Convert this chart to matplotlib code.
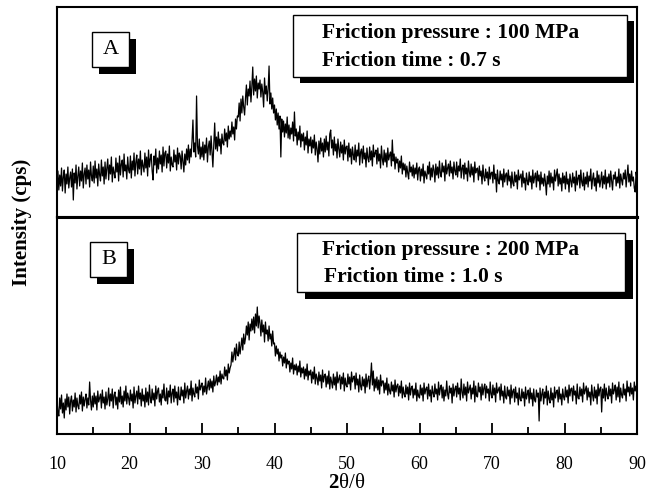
import numpy as np
import matplotlib
matplotlib.use("Agg")
import matplotlib.pyplot as plt
from matplotlib.patches import Rectangle

plt.rcParams['font.family'] = ['Liberation Serif', 'DejaVu Serif']
plt.rcParams['mathtext.fontset'] = 'custom'
plt.rcParams['mathtext.rm'] = 'Liberation Serif'
plt.rcParams['mathtext.bf'] = 'Liberation Serif:bold'

# Panel A intensity (arbitrary units); one row per degree (10..89), 8 readings
# per degree (step 0.125), then the reading at 90 deg
rows_a = [
    [35, 46, 27, 42, 31, 49, 26, 40], [47, 24, 43, 33, 50, 29, 39, 45],
    [30, 48, 17, 44, 34, 52, 28, 41], [50, 31, 46, 36, 54, 29, 43, 49],
    [33, 52, 38, 47, 30, 55, 41, 36], [51, 34, 56, 39, 48, 31, 53, 42],
    [36, 57, 41, 50, 33, 55, 38, 49], [58, 37, 52, 43, 60, 35, 50, 44],
    [39, 59, 45, 54, 36, 61, 42, 53], [57, 40, 63, 46, 52, 38, 60, 47],
    [44, 61, 39, 56, 47, 64, 41, 55], [62, 43, 58, 48, 66, 42, 57, 51],
    [45, 64, 49, 60, 41, 67, 50, 58], [63, 46, 37, 61, 52, 68, 44, 59],
    [48, 66, 53, 62, 45, 70, 51, 64], [66, 49, 63, 54, 71, 46, 60, 52],
    [50, 67, 55, 62, 47, 69, 53, 64], [61, 48, 66, 56, 45, 63, 52, 68],
    [57, 72, 54, 68, 60, 76, 97, 65], [74, 60, 121, 71, 63, 78, 58, 70],
    [60, 75, 57, 72, 64, 79, 55, 70], [76, 62, 81, 66, 50, 73, 94, 68],
    [80, 66, 85, 71, 78, 63, 83, 74], [72, 88, 76, 84, 70, 91, 78, 86],
    [80, 95, 83, 90, 77, 98, 88, 101], [100, 114, 96, 118, 104, 121, 110, 102],
    [119, 132, 112, 128, 121, 136, 115, 130], [150, 122, 138, 126, 141, 119, 134, 128],
    [137, 120, 133, 125, 110, 139, 123, 131], [116, 128, 151, 113, 124, 108, 119, 104],
    [112, 97, 108, 92, 104, 88, 101, 60], [98, 85, 96, 80, 93, 84, 100, 79],
    [92, 78, 89, 83, 95, 76, 105, 81], [88, 72, 85, 77, 91, 70, 83, 76],
    [84, 67, 80, 72, 86, 64, 78, 71], [80, 64, 77, 69, 82, 62, 75, 68],
    [55, 76, 63, 79, 66, 74, 60, 78], [65, 81, 67, 75, 61, 83, 87, 69],
    [77, 62, 80, 66, 73, 59, 78, 68], [60, 75, 64, 72, 57, 77, 63, 70],
    [71, 56, 74, 60, 68, 53, 70, 62], [57, 72, 55, 67, 61, 74, 52, 65],
    [68, 54, 71, 58, 64, 50, 69, 59], [55, 70, 57, 66, 51, 72, 60, 64],
    [67, 53, 69, 56, 63, 49, 71, 58], [52, 67, 55, 64, 50, 69, 57, 62],
    [65, 51, 77, 56, 63, 48, 60, 54], [58, 45, 56, 49, 61, 43, 54, 47],
    [53, 40, 51, 44, 38, 55, 45, 50], [41, 52, 39, 49, 43, 54, 37, 48],
    [50, 36, 48, 41, 53, 34, 46, 42], [38, 51, 43, 55, 37, 49, 40, 52],
    [47, 35, 53, 42, 50, 39, 56, 44], [40, 54, 45, 51, 36, 57, 43, 49],
    [53, 41, 56, 44, 50, 38, 55, 46], [42, 55, 40, 51, 46, 58, 39, 49],
    [52, 38, 54, 43, 49, 36, 56, 45], [40, 53, 42, 50, 35, 55, 44, 48],
    [49, 37, 51, 41, 46, 33, 52, 40], [36, 48, 39, 45, 32, 50, 38, 44],
    [45, 34, 52, 38, 43, 25, 47, 36], [33, 46, 37, 43, 30, 48, 35, 42],
    [44, 32, 47, 36, 41, 29, 45, 34], [31, 45, 35, 42, 28, 47, 37, 40],
    [43, 30, 46, 34, 39, 27, 44, 36], [32, 45, 35, 41, 28, 47, 34, 40],
    [44, 30, 46, 36, 42, 27, 45, 33], [39, 31, 43, 35, 22, 41, 33, 46],
    [30, 44, 34, 40, 27, 47, 36, 42], [48, 31, 43, 33, 39, 26, 44, 34],
    [41, 28, 45, 33, 38, 25, 43, 36], [30, 44, 34, 40, 26, 46, 32, 39],
    [42, 29, 47, 35, 31, 44, 27, 40], [33, 45, 30, 41, 36, 48, 28, 38],
    [44, 31, 39, 26, 46, 34, 42, 30], [37, 45, 29, 41, 33, 47, 28, 40],
    [34, 43, 30, 46, 36, 27, 42, 38], [45, 31, 40, 34, 48, 29, 43, 37],
    [32, 44, 38, 47, 30, 41, 52, 35], [43, 31, 46, 36, 40, 29, 25, 45],
]
end_a = 38

# Panel B intensity (arbitrary units), same layout
rows_b = [
    [33, 22, 18, 36, 25, 39, 21, 31], [16, 35, 24, 40, 27, 37, 20, 33],
    [38, 23, 34, 27, 41, 22, 36, 28], [25, 39, 30, 42, 23, 37, 28, 35],
    [40, 26, 36, 29, 52, 34, 24, 38], [27, 41, 30, 38, 24, 43, 32, 36],
    [40, 26, 44, 31, 37, 25, 42, 29], [35, 46, 28, 40, 33, 45, 26, 39],
    [42, 29, 37, 25, 44, 32, 47, 30], [38, 27, 43, 33, 48, 30, 41, 36],
    [29, 44, 33, 40, 26, 47, 31, 38], [43, 30, 48, 35, 41, 28, 45, 33],
    [39, 27, 46, 32, 42, 29, 49, 36], [31, 45, 34, 41, 28, 48, 35, 43],
    [46, 32, 40, 29, 44, 36, 50, 34], [33, 46, 30, 43, 37, 49, 31, 41],
    [45, 32, 48, 36, 42, 29, 47, 35], [34, 47, 38, 44, 31, 51, 36, 43],
    [48, 35, 45, 39, 53, 33, 46, 40], [37, 50, 41, 47, 35, 54, 44, 48],
    [51, 39, 48, 42, 56, 40, 47, 53], [44, 55, 46, 53, 42, 58, 48, 52],
    [59, 49, 57, 52, 63, 50, 60, 56], [55, 67, 58, 64, 54, 70, 61, 66],
    [69, 82, 72, 79, 86, 74, 90, 80], [78, 92, 80, 88, 96, 84, 100, 90],
    [96, 108, 99, 112, 94, 110, 103, 115], [104, 117, 101, 120, 108, 127, 106, 118],
    [111, 98, 114, 102, 109, 92, 112, 100], [104, 93, 108, 95, 100, 88, 103, 90],
    [91, 78, 88, 80, 85, 73, 82, 76], [79, 68, 77, 71, 81, 66, 75, 70],
    [73, 62, 71, 65, 76, 60, 69, 64], [70, 59, 68, 62, 73, 57, 66, 61],
    [67, 55, 65, 58, 70, 54, 63, 59], [64, 51, 62, 55, 67, 50, 60, 56],
    [49, 62, 53, 59, 46, 64, 52, 58], [60, 47, 58, 50, 63, 45, 57, 52],
    [46, 60, 49, 57, 44, 62, 51, 55], [59, 45, 57, 50, 61, 43, 56, 49],
    [47, 60, 50, 57, 44, 62, 52, 56], [58, 45, 61, 49, 55, 42, 59, 48],
    [44, 57, 48, 55, 41, 60, 47, 54], [58, 45, 56, 71, 49, 63, 43, 55],
    [46, 57, 44, 54, 40, 59, 48, 53], [53, 41, 51, 44, 56, 39, 50, 43],
    [40, 52, 43, 49, 37, 54, 42, 48], [50, 38, 48, 41, 53, 36, 47, 40],
    [37, 49, 40, 47, 34, 51, 39, 46], [48, 36, 45, 39, 51, 33, 44, 38],
    [36, 49, 39, 46, 33, 51, 40, 45], [47, 35, 50, 38, 44, 32, 48, 41],
    [37, 50, 40, 45, 34, 52, 39, 46], [49, 36, 47, 33, 44, 38, 53, 40],
    [35, 48, 41, 46, 31, 50, 38, 45], [48, 37, 51, 40, 46, 34, 55, 42],
    [36, 50, 39, 47, 33, 52, 41, 45], [49, 35, 46, 40, 53, 32, 48, 38],
    [37, 51, 42, 47, 34, 50, 39, 46], [50, 36, 48, 41, 45, 33, 52, 40],
    [36, 49, 39, 46, 32, 51, 41, 44], [47, 34, 50, 38, 43, 31, 48, 37],
    [35, 47, 38, 44, 30, 49, 36, 43], [45, 32, 47, 36, 41, 29, 46, 35],
    [33, 45, 36, 42, 28, 47, 35, 40], [44, 31, 46, 35, 41, 28, 45, 34],
    [32, 44, 37, 41, 13, 46, 33, 40], [45, 30, 42, 36, 48, 29, 43, 35],
    [31, 46, 34, 41, 27, 47, 36, 42], [44, 32, 47, 35, 40, 29, 45, 37],
    [34, 47, 37, 44, 31, 49, 38, 45], [46, 33, 48, 39, 43, 30, 50, 36],
    [35, 47, 38, 45, 32, 51, 40, 44], [48, 34, 46, 37, 42, 29, 49, 39],
    [33, 47, 36, 44, 30, 50, 38, 45], [47, 22, 45, 36, 50, 33, 46, 39],
    [35, 48, 38, 45, 31, 51, 40, 44], [49, 34, 47, 37, 52, 32, 46, 39],
    [36, 50, 39, 45, 33, 53, 42, 47], [38, 51, 40, 46, 34, 52, 43, 48],
]
end_b = 42

for name, rows in (("A", rows_a), ("B", rows_b)):
    assert len(rows) == 80, (name, len(rows))
    for i, r in enumerate(rows):
        assert len(r) == 8, (name, i, len(r))

intensity_a = [v for r in rows_a for v in r] + [end_a]
intensity_b = [v for r in rows_b for v in r] + [end_b]
two_theta = np.linspace(10, 90, len(intensity_a))

panel_labels = ["A", "B"]
pressure_text = ["Friction pressure : 100 MPa", "Friction pressure : 200 MPa"]
time_text = ["Friction time : 0.7 s", "Friction time : 1.0 s"]
x_ticks = [10, 20, 30, 40, 50, 60, 70, 80, 90]

W, H = 656, 496
fig = plt.figure(figsize=(W / 100, H / 100), dpi=100)

def fx(px):
    return px / W

def fy(py):
    return 1 - py / H

left, right = 57, 637
top, mid, bot = 7, 217, 434

ax_a = fig.add_axes([fx(left), fy(mid), fx(right) - fx(left), fy(top) - fy(mid)])
ax_b = fig.add_axes([fx(left), fy(bot), fx(right) - fx(left), fy(mid) - fy(bot)])

ax_a.plot(two_theta, intensity_a, color='black', lw=0.9)
ax_b.plot(two_theta, intensity_b, color='black', lw=0.9)

ax_a.set_ylim(0, mid - top)
ax_b.set_ylim(0, bot - mid)
for ax in (ax_a, ax_b):
    ax.set_xlim(10, 90)
    ax.set_yticks([])
    for s in ax.spines.values():
        s.set_linewidth(1.5)

ax_a.set_xticks([])
ax_a.spines['bottom'].set_linewidth(2.2)
ax_b.spines['top'].set_linewidth(2.2)

ax_b.set_xticks(x_ticks)
ax_b.set_xticks(np.arange(15, 90, 10), minor=True)
ax_b.tick_params(axis='x', which='major', direction='in', length=8, width=1.3,
                 labelsize=13, pad=16)
ax_b.tick_params(axis='x', which='minor', direction='in', length=5, width=1.3)

fig.text(fx(347), fy(484), r'$\mathbf{2}$θ/θ', fontsize=15, ha='center', va='center')
fig.text(fx(22), fy(222), "Intensity (cps)", rotation=90, fontsize=15,
         fontweight='bold', ha='center', va='center')

# overlay in pixel coordinates
ov = fig.add_axes([0, 0, 1, 1])
ov.set_xlim(0, W)
ov.set_ylim(H, 0)
ov.axis('off')

def shadow_box(x0, y0, x1, y1, dx, dy):
    ov.add_patch(Rectangle((x0 + dx, y0 + dy), x1 - x0, y1 - y0,
                           facecolor='black', edgecolor='black', lw=0))
    ov.add_patch(Rectangle((x0, y0), x1 - x0, y1 - y0,
                           facecolor='white', edgecolor='black', lw=1.0))

# panel letter boxes
shadow_box(92, 32, 129, 67, 7, 7)
ov.text(110.5, 50, panel_labels[0], fontsize=16, ha='center', va='center')
shadow_box(90, 242, 127, 277, 7, 7)
ov.text(108.5, 260, panel_labels[1], fontsize=16, ha='center', va='center')

# condition boxes
shadow_box(293, 15, 627, 77, 7, 6)
ov.text(322, 33, pressure_text[0], fontsize=15.5, fontweight='bold', va='center')
ov.text(322, 61, time_text[0], fontsize=15.5, fontweight='bold', va='center')
shadow_box(297, 233, 625, 292, 8, 7)
ov.text(322, 250, pressure_text[1], fontsize=15.5, fontweight='bold', va='center')
ov.text(324, 277, time_text[1], fontsize=15.5, fontweight='bold', va='center')

fig.savefig("out.png", dpi=100)
